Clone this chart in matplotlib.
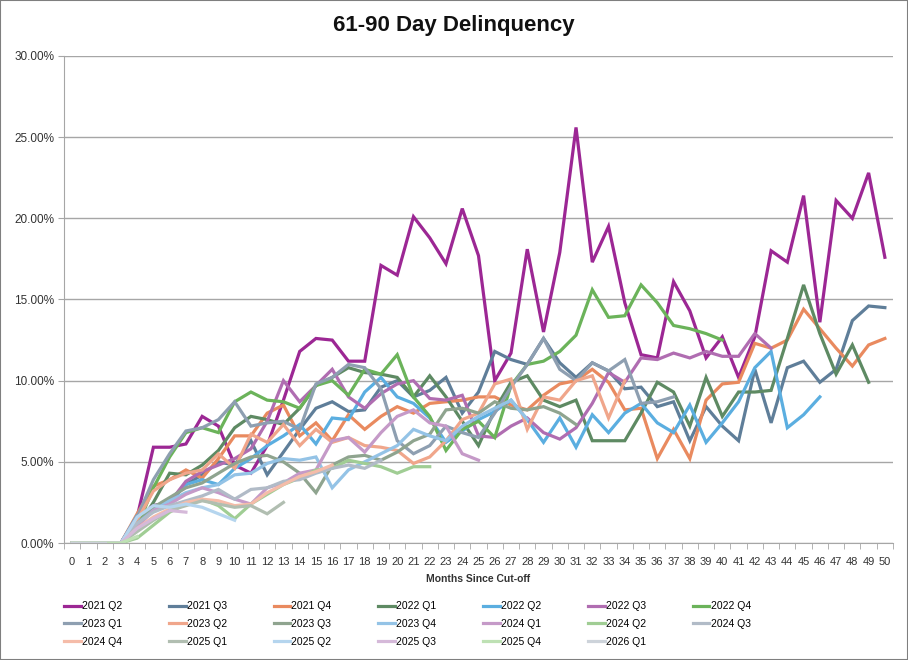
import matplotlib
matplotlib.use('Agg')
import matplotlib.pyplot as plt
from matplotlib.patches import Rectangle
from matplotlib.ticker import FuncFormatter, MultipleLocator
import numpy as np

plt.rcParams['font.family'] = ['Liberation Sans Narrow', 'Liberation Sans', 'DejaVu Sans']

# delinquency rate (%) by months since cut-off, one list per vintage
q2_2021 = [0, 0, 0, 0, 1.6, 5.9, 5.9, 6.1, 7.8, 7.2, 4.8, 4.3, 6.0, 8.8, 11.8, 12.6, 12.5, 11.2, 11.2, 17.1,
           16.5, 20.1, 18.8, 17.2, 20.6, 17.7, 10.0, 11.7, 18.1, 13.0, 17.9, 25.6, 17.3, 19.5, 14.8, 11.6,
           11.4, 16.1, 14.3, 11.4, 12.7, 10.2, 12.7, 18.0, 17.3, 21.4, 13.6, 21.1, 20.0, 22.8, 17.6]
q3_2021 = [0, 0, 0, 0, 1.4, 2.3, 2.5, 3.6, 4.2, 5.0, 4.8, 6.3, 4.2, 5.6, 7.0, 8.3, 8.7, 8.1, 8.2, 9.6,
           10.0, 9.0, 9.4, 10.2, 8.0, 9.3, 11.8, 11.3, 11.0, 12.6, 11.1, 10.2, 11.1, 10.6, 9.5, 9.6,
           8.4, 8.7, 6.3, 8.4, 7.2, 6.3, 10.7, 7.4, 10.8, 11.2, 9.9, 10.7, 13.7, 14.6, 14.5]
q4_2021 = [0, 0, 0, 0, 1.8, 3.5, 3.9, 4.5, 4.0, 5.2, 6.6, 6.6, 8.0, 8.5, 6.6, 7.4, 6.3, 7.9, 7.0, 7.8,
           8.4, 8.0, 8.6, 8.7, 8.8, 9.0, 9.0, 8.5, 8.2, 9.1, 9.8, 10.0, 10.7, 9.9, 8.2, 8.3,
           5.2, 7.0, 5.2, 8.8, 9.8, 9.9, 12.3, 12.0, 12.5, 14.4, 13.2, 12.0, 10.9, 12.2, 12.6]
q1_2022 = [0, 0, 0, 0, 1.0, 2.5, 4.3, 4.2, 4.8, 5.7, 7.1, 7.8, 7.6, 7.3, 8.3, 9.7, 10.2, 10.8, 10.5, 10.4,
           10.2, 9.0, 10.3, 9.0, 7.5, 6.0, 8.2, 9.9, 10.3, 8.8, 8.4, 8.8, 6.3, 6.3, 6.3, 8.0,
           9.9, 9.3, 7.2, 10.2, 7.8, 9.3, 9.3, 9.4, 12.6, 15.9, 12.9, 10.4, 12.2, 9.9]
q2_2022 = [0, 0, 0, 0, 1.7, 2.1, 2.6, 3.6, 3.9, 3.6, 4.6, 5.2, 6.0, 6.6, 7.3, 6.1, 7.7, 7.6, 9.3, 10.2,
           9.0, 8.6, 7.7, 6.2, 6.9, 7.6, 8.1, 8.8, 7.6, 6.2, 7.7, 5.9, 7.9, 6.8, 8.0, 8.6,
           7.4, 6.8, 8.5, 6.2, 7.4, 8.7, 10.8, 11.8, 7.1, 7.9, 9.0]
q3_2022 = [0, 0, 0, 0, 1.6, 2.3, 2.5, 3.8, 4.4, 4.8, 5.2, 5.8, 7.5, 10.0, 8.7, 9.7, 10.7, 9.0, 8.3, 9.2,
           9.8, 10.0, 8.9, 8.8, 9.1, 6.6, 6.5, 7.2, 7.7, 6.8, 6.4, 7.1, 8.6, 10.5, 9.9, 11.4,
           11.3, 11.7, 11.4, 11.8, 11.5, 11.5, 12.9, 12.0]
q4_2022 = [0, 0, 0, 0, 1.0, 3.4, 5.3, 6.8, 7.1, 6.8, 8.7, 9.3, 8.8, 8.7, 8.3, 9.7, 10.0, 9.1, 10.7, 10.4,
           11.6, 9.0, 7.8, 5.7, 7.0, 7.5, 6.5, 9.7, 11.0, 11.2, 11.8, 12.8, 15.6, 13.9, 14.0, 15.9,
           14.8, 13.4, 13.2, 12.9, 12.5]
q1_2023 = [0, 0, 0, 0, 1.6, 3.9, 5.5, 6.9, 7.1, 7.6, 8.7, 7.2, 7.4, 7.5, 7.0, 9.8, 10.2, 11.0, 10.8, 9.5,
           6.3, 5.5, 6.0, 7.2, 6.8, 6.5, 8.0, 9.6, 11.0, 12.6, 10.7, 10.0, 11.1, 10.6, 11.3, 8.6,
           8.7, 9.0]
q2_2023 = [0, 0, 0, 0, 1.4, 3.2, 3.9, 4.3, 4.5, 5.5, 4.6, 6.7, 6.2, 7.3, 6.0, 7.0, 6.2, 6.5, 6.0, 5.9,
           5.7, 4.9, 5.3, 6.3, 7.6, 8.0, 9.8, 10.1, 7.0, 9.0, 8.8, 10.0, 10.3, 7.7, 10.0]
q3_2023 = [0, 0, 0, 0, 1.2, 2.2, 2.8, 3.4, 3.7, 4.3, 4.9, 5.3, 5.4, 5.0, 4.3, 3.1, 4.8, 5.3, 5.4, 5.1,
           5.6, 6.3, 6.7, 8.2, 8.3, 8.0, 8.7, 8.3, 8.2, 8.4, 8.0, 7.3]
q4_2023 = [0, 0, 0, 0, 1.2, 2.0, 2.6, 3.1, 3.4, 3.6, 4.2, 4.3, 4.9, 5.2, 5.1, 5.3, 3.4, 4.5, 5.0, 5.5,
           6.0, 7.0, 6.6, 6.3, 7.2, 7.8, 8.3, 8.8, 7.6]
q1_2024 = [0, 0, 0, 0, 1.0, 2.0, 2.4, 3.0, 3.4, 3.1, 2.7, 2.4, 3.4, 3.7, 4.3, 4.5, 6.3, 6.5, 5.6, 6.8,
           7.8, 8.2, 7.4, 7.2, 5.5, 5.1]
q2_2024 = [0, 0, 0, 0, 0.3, 1.1, 1.9, 2.4, 2.7, 2.3, 1.5, 2.4, 3.0, 3.6, 4.0, 4.5, 4.6, 5.1, 4.9, 4.7,
           4.3, 4.7, 4.7]
q3_2024 = [0, 0, 0, 0, 1.2, 1.9, 2.3, 2.6, 2.9, 3.3, 2.7, 3.3, 3.4, 3.8, 3.9, 4.3, 4.6, 4.8, 4.6, 5.1]
q4_2024 = [0, 0, 0, 0, 0.9, 1.6, 2.1, 2.5, 2.7, 2.6, 2.3, 2.4, 3.1, 3.6, 4.1, 4.4, 4.8]
q1_2025 = [0, 0, 0, 0, 0.7, 1.4, 2.0, 2.3, 2.6, 2.4, 2.2, 2.3, 1.8, 2.5]
q2_2025 = [0, 0, 0, 0, 1.6, 2.3, 2.2, 2.4, 2.2, 1.8, 1.4]
q3_2025 = [0, 0, 0, 0, 0.9, 1.5, 2.0, 1.9]
q4_2025 = [0, 0, 0, 0, 0.4]
q1_2026 = [0, 0, 0]

labels = ['2021 Q2', '2021 Q3', '2021 Q4', '2022 Q1', '2022 Q2', '2022 Q3', '2022 Q4',
          '2023 Q1', '2023 Q2', '2023 Q3', '2023 Q4', '2024 Q1', '2024 Q2', '2024 Q3',
          '2024 Q4', '2025 Q1', '2025 Q2', '2025 Q3', '2025 Q4', '2026 Q1']
series = [q2_2021, q3_2021, q4_2021, q1_2022, q2_2022, q3_2022, q4_2022,
          q1_2023, q2_2023, q3_2023, q4_2023, q1_2024, q2_2024, q3_2024,
          q4_2024, q1_2025, q2_2025, q3_2025, q4_2025, q1_2026]
colors = ['#9C2794', '#5F7E99', '#E98A5F', '#5E8A63', '#5BAEE0', '#B06DB1', '#6BB35A',
          '#8E9FB1', '#F0A68B', '#8FA48F', '#94C3E6', '#C59AC8', '#A0CD94', '#B1BBC7',
          '#F5BCA9', '#B1BEB1', '#B5D5EE', '#D5B9D9', '#BEE1B4', '#CDD3DA']

months = np.arange(0, 51)

fig = plt.figure(figsize=(9.08, 6.6), dpi=100)
ax = fig.add_axes([64 / 908, 117 / 660, 829 / 908, 487 / 660])

handles = []
for vals, lab, col in zip(series, labels, colors):
    h, = ax.plot(months[:len(vals)], np.array(vals) / 100.0, color=col, lw=2.3, label=lab,
                 solid_joinstyle='miter')
    handles.append(h)

ax.set_xlim(-0.5, 50.5)
ax.set_ylim(0, 0.30)
ax.yaxis.set_major_locator(MultipleLocator(0.05))
ax.yaxis.set_major_formatter(FuncFormatter(lambda v, p: '%.2f%%' % (v * 100)))
ax.set_xticks(months)
ax.set_xticks(np.arange(-0.5, 51, 1), minor=True)
ax.tick_params(axis='x', which='major', length=0, labelsize=8, colors='#333333', pad=10)
ax.tick_params(axis='x', which='minor', length=4, color='#A6A6A6')
ax.tick_params(axis='y', length=4, color='#A6A6A6', labelsize=8.5, labelcolor='#333333', pad=3)
ax.grid(axis='y', color='#A6A6A6', lw=1)
ax.set_axisbelow(True)
for s in ['top', 'right']:
    ax.spines[s].set_visible(False)
ax.spines['left'].set_color('#A6A6A6')
ax.spines['bottom'].set_color('#A6A6A6')

ax.set_xlabel('Months Since Cut-off', fontsize=7.5, fontweight='bold', color='#333333', labelpad=5)

fig.text(0.5, 1 - 25 / 660, '61-90 Day Delinquency', ha='center', va='center',
         fontsize=16, fontweight='bold', color='#111111')

# legend reads row by row: reorder for column-wise filling
ncol = 7
order = [i for c in range(ncol) for i in range(c, len(handles), ncol)]
fig.legend([handles[i] for i in order], [labels[i] for i in order],
           loc='upper left', bbox_to_anchor=(60 / 908, 1 - 597 / 660), ncol=ncol, frameon=False,
           fontsize=7.5, handlelength=1.6, handletextpad=0.1, columnspacing=4.5, labelspacing=0.75,
           borderaxespad=0)

fig.patches.append(Rectangle((0, 0), 1, 1, transform=fig.transFigure, fill=False,
                             edgecolor='#7F7F7F', lw=1.5))

fig.savefig('out.png', dpi=100)
